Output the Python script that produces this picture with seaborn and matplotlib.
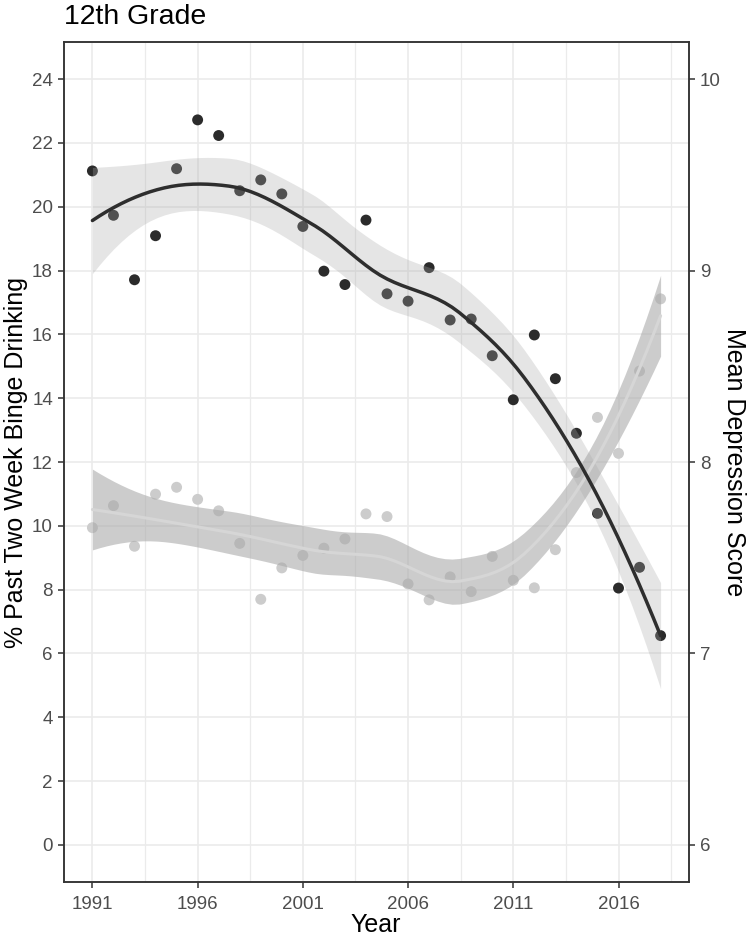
import numpy as np
import pandas as pd
import matplotlib
matplotlib.use("Agg")
import matplotlib.pyplot as plt
import seaborn as sns

# Values
years = list(range(1991, 2019))
binge = [21.12, 19.73, 17.71, 19.09, 21.19, 22.72, 22.23, 20.50, 20.84, 20.40,
         19.38, 17.98, 17.56, 19.58, 17.27, 17.04, 18.09, 16.45, 16.48, 15.33,
         13.95, 15.98, 14.61, 12.90, 10.39, 8.05, 8.70, 6.56]
depression = [7.657, 7.772, 7.560, 7.832, 7.868, 7.805, 7.745, 7.575, 7.283, 7.447,
              7.512, 7.550, 7.598, 7.729, 7.715, 7.363, 7.280, 7.400, 7.323, 7.507,
              7.382, 7.343, 7.542, 7.945, 8.233, 8.045, 8.475, 8.852]
year_ticks = [1991, 1996, 2001, 2006, 2011, 2016]
left_ticks = list(range(0, 25, 2))
right_ticks = [6, 7, 8, 9, 10]

df = pd.DataFrame({"Year": years, "Binge": binge, "Depression": depression})
# secondary axis: depression = 6 + binge_scale / 6
df["DepScaled"] = (df["Depression"] - 6) * 6


def t_quantile(df_, z=1.959964):
    # Cornish-Fisher expansion of the t quantile
    return (z + (z**3 + z) / (4 * df_) + (5 * z**5 + 16 * z**3 + 3 * z) / (96 * df_**2)
            + (3 * z**7 + 19 * z**5 + 17 * z**3 - 15 * z) / (384 * df_**3))


def loess(x, y, grid, span=0.75, cell=0.2):
    # local quadratic loess, kd-tree vertices + cubic Hermite interpolation (like R)
    x = np.asarray(x, float)
    y = np.asarray(y, float)
    n = len(x)
    q = int(np.floor(n * span))
    fc = int(np.floor(n * span * cell))
    xs = np.sort(x)

    margin = 0.005 * (xs[-1] - xs[0])
    verts = [xs[0] - margin, xs[-1] + margin]

    def split(lo, hi):
        if hi - lo + 1 <= fc:
            return
        m = (lo + hi) // 2
        verts.append((xs[m] + xs[m + 1]) / 2)
        split(lo, m)
        split(m + 1, hi)

    split(0, n - 1)
    verts = np.sort(verts)

    V = np.zeros((len(verts), n))
    D = np.zeros((len(verts), n))
    for i, x0 in enumerate(verts):
        d = np.abs(x - x0)
        h = np.sort(d)[q - 1]
        w = np.clip(1 - (d / h) ** 3, 0, None) ** 3
        X = np.column_stack([np.ones(n), x - x0, (x - x0) ** 2])
        XtW = X.T * w
        B = np.linalg.solve(XtW @ X, XtW)
        V[i], D[i] = B[0], B[1]

    def operator(points):
        L = np.zeros((len(points), n))
        for i, xq in enumerate(points):
            k = min(np.searchsorted(verts, xq, side="right") - 1, len(verts) - 2)
            hw = verts[k + 1] - verts[k]
            t = (xq - verts[k]) / hw
            h00 = 2 * t**3 - 3 * t**2 + 1
            h10 = t**3 - 2 * t**2 + t
            h01 = -2 * t**3 + 3 * t**2
            h11 = t**3 - t**2
            L[i] = h00 * V[k] + h10 * hw * D[k] + h01 * V[k + 1] + h11 * hw * D[k + 1]
        return L

    Ls = operator(x)
    I = np.eye(n)
    M = (I - Ls).T @ (I - Ls)
    d1, d2 = np.trace(M), np.trace(M @ M)
    res = y - Ls @ y
    s = np.sqrt(res @ res / d1)
    Lg = operator(grid)
    fit = Lg @ y
    se = s * np.sqrt((Lg ** 2).sum(axis=1))
    tq = t_quantile(d1 ** 2 / d2)
    return pd.DataFrame({"Year": grid, "fit": fit, "lo": fit - tq * se, "hi": fit + tq * se})


grid = np.linspace(min(years), max(years), 80)
sm_binge = loess(df["Year"], df["Binge"], grid)
sm_dep = loess(df["Year"], df["DepScaled"], grid)

sns.set_theme(style="white")
plt.rcParams["font.family"] = ["Liberation Sans", "DejaVu Sans"]

fig = plt.figure(figsize=(7.47, 9.38), dpi=100)
ax = fig.add_axes([64 / 747, 1 - 882 / 938, 625 / 747, 840 / 938])

# grid like theme_bw
for yr in year_ticks:
    ax.axvline(yr, color="#ebebeb", lw=1.2, zorder=0)
for yr in np.arange(1988.5, 2020, 5):
    ax.axvline(yr, color="#ebebeb", lw=0.9, zorder=0)
for v in left_ticks:
    ax.axhline(v, color="#ebebeb", lw=1.2, zorder=0)

sns.scatterplot(data=df, x="Year", y="Binge", color="#2b2b2b", s=62,
                edgecolor="none", ax=ax, zorder=2)
sns.scatterplot(data=df, x="Year", y="DepScaled", color="#cccccc", s=62,
                edgecolor="none", ax=ax, zorder=2)

ax.fill_between(sm_binge["Year"], sm_binge["lo"], sm_binge["hi"],
                color="#ababab", alpha=0.3, lw=0, zorder=3)
ax.fill_between(sm_dep["Year"], sm_dep["lo"], sm_dep["hi"],
                color="#a8a8a8", alpha=0.58, lw=0, zorder=3)
sns.lineplot(data=sm_dep, x="Year", y="fit", color="#d6d6d6", lw=2.2, ax=ax, zorder=4)
sns.lineplot(data=sm_binge, x="Year", y="fit", color="#2e2e2e", lw=2.5, ax=ax, zorder=5)

ax.set_xlim(1989.65, 2019.35)
ax.set_ylim(-1.16, 25.16)
ax.set_xticks(year_ticks)
ax.set_yticks(left_ticks)
ax.set_xlabel("")
ax.set_ylabel("")

ax2 = ax.twinx()
ax2.set_ylim(6 - 1.16 / 6, 6 + 25.16 / 6)
ax2.set_yticks(right_ticks)

for a in (ax, ax2):
    a.tick_params(length=4, width=1.1, color="#333333", labelsize=13.5,
                  labelcolor="#4d4d4d", pad=4)
    for sp in a.spines.values():
        sp.set_color("#333333")
        sp.set_linewidth(1.1)
        sp.set_visible(True)
ax.tick_params(axis="x", pad=6)
ax.tick_params(axis="both", which="both", bottom=True, left=True)
ax2.tick_params(axis="y", right=True)

# axis titles and plot title
fig.text(376 / 747, 1 - 937 / 938, "Year", fontsize=18, color="black",
         ha="center", va="bottom")
fig.text(16 / 747, 1 - 462 / 938, "% Past Two Week Binge Drinking", fontsize=18,
         color="black", rotation=90, ha="center", va="center")
fig.text(734 / 747, 1 - 462 / 938, "Mean Depression Score", fontsize=18,
         color="black", rotation=270, ha="center", va="center")
fig.text(64 / 747, 1 - 24 / 938, "12th Grade", fontsize=20.5, color="black",
         ha="left", va="baseline")

fig.savefig("out.png", dpi=100)
